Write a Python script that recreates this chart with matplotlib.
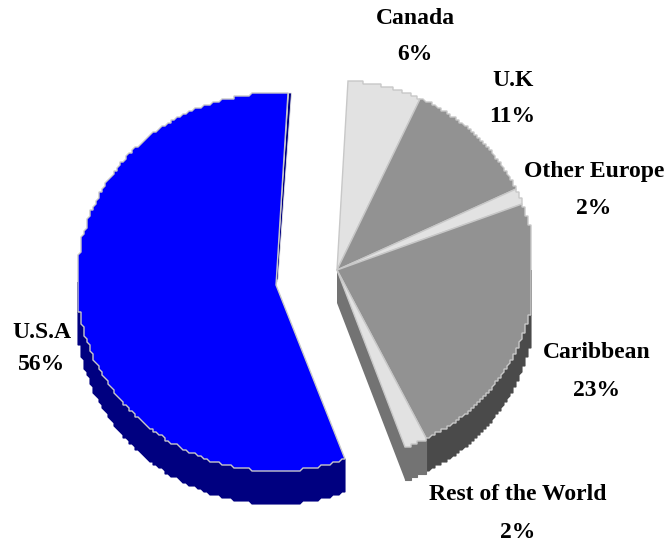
import matplotlib.pyplot as plt
import numpy as np

# clockwise from the top, starting at Canada
segments = ["Canada", "U.K", "Other Europe", "Caribbean", "Rest of the World", "U.S.A"]
shares = [6.0, 11.0, 1.4, 23.2, 1.8, 56.6]
percent_labels = ["6%", "11%", "2%", "23%", "2%", "56%"]
top_colors = ["#e2e2e2", "#929292", "#e2e2e2", "#929292", "#e2e2e2", "#0000ff"]
wall_colors = ["#737373", "#737373", "#737373", "#4a4a4a", "#737373", "#000080"]

label_centers = [(415, 19), (513, 81), (594, 171), (597, 352), (518, 495), (42, 332)]
percent_centers = [(415, 55), (512, 116), (594, 208), (597, 390), (518, 532), (42, 364)]

START_ANGLE = 3.6
DEPTH = 33
STEP = 3
EDGE = "#c8c8c8"

edges = START_ANGLE + np.cumsum([0] + shares) * 3.6


def arc(theta1, theta2, cx, cy, a, b):
    """Stair-stepped arc, angles clockwise from north in degrees."""
    theta = np.radians(np.linspace(theta1, theta2, 240))
    x = cx + a * np.sin(theta)
    y = cy - b * np.cos(theta)
    return np.round(x / STEP) * STEP, np.round(y / STEP) * STEP


def draw_slice(ax, theta1, theta2, vertex, ellipse, top, wall, x_range, y_min=None):
    cx, cy, a, b = ellipse
    x, y = arc(theta1, theta2, cx, cy, a, b)
    x = np.clip(x, *x_range)
    if y_min is not None:
        y = np.maximum(y, y_min)

    # outer wall: only the part of the rim facing the viewer
    angles = np.linspace(theta1, theta2, x.size) % 360
    front = (angles > 90) & (angles < 270)
    if front.any():
        wx, wy = x[front], y[front]
        ax.fill(
            np.r_[wx, wx[::-1]],
            np.r_[wy, wy[::-1] + DEPTH],
            color=wall,
            lw=0.8,
            zorder=2,
        )

    ax.fill(
        np.r_[vertex[0], x],
        np.r_[vertex[1], y],
        facecolor=top,
        edgecolor=EDGE,
        lw=1.0,
        joinstyle="miter",
        zorder=3,
    )


fig = plt.figure(figsize=(6.68, 5.46), dpi=100)
ax = fig.add_axes([0, 0, 1, 1])
ax.set_xlim(0, 668)
ax.set_ylim(546, 0)
ax.axis("off")

right_vertex = (337, 270)
right_ellipse = (337, 270, 198, 189)
left_vertex = (276, 285)
left_ellipse = (276, 282, 199, 189)

# cut face of the right part, under Rest of the World
rest_end = edges[5]
ex = right_ellipse[0] + right_ellipse[2] * np.sin(np.radians(rest_end))
ey = right_ellipse[1] - right_ellipse[3] * np.cos(np.radians(rest_end))
ax.fill(
    [right_vertex[0], ex, ex, right_vertex[0]],
    [right_vertex[1], ey, ey + DEPTH, right_vertex[1] + DEPTH],
    color=wall_colors[4],
    lw=0,
    zorder=1,
)

# thin inner wall along the upper cut edge of the U.S.A slice
usa_end = edges[6]
ux = left_ellipse[0] + left_ellipse[2] * np.sin(np.radians(usa_end))
ax.fill(
    [left_vertex[0], ux, ux + 3, left_vertex[0] + 2],
    [left_vertex[1], 93, 93, left_vertex[1] - 6],
    color=wall_colors[5],
    ec="#e8e8e8",
    lw=0.6,
    zorder=1,
)

for i, name in enumerate(segments):
    is_usa = name == "U.S.A"
    draw_slice(
        ax,
        edges[i],
        edges[i + 1],
        left_vertex if is_usa else right_vertex,
        left_ellipse if is_usa else right_ellipse,
        top_colors[i],
        wall_colors[i],
        (78, 668) if is_usa else (0, 531),
        y_min=93 if is_usa else None,
    )

text_style = dict(
    family="Liberation Serif",
    fontweight="bold",
    fontsize=17,
    ha="center",
    va="center",
    color="black",
    zorder=5,
)
for name, pct, lc, pc in zip(segments, percent_labels, label_centers, percent_centers):
    ax.text(lc[0], lc[1], name, **text_style)
    ax.text(pc[0], pc[1], pct, **text_style)

fig.savefig("out.png", dpi=100)
